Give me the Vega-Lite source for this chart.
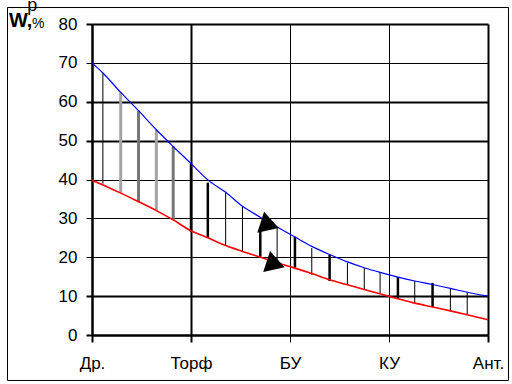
{
  "$schema": "https://vega.github.io/schema/vega-lite/v6.json",
  "width": 396,
  "height": 311,
  "autosize": "none",
  "padding": {"left": 92, "top": 24, "right": 24, "bottom": 49},
  "background": "white",
  "config": {
    "view": {"stroke": null},
    "axis": {
      "domainColor": "black", "domainWidth": 2,
      "grid": true,
      "gridColor": "black", "gridOpacity": 1,
      "tickColor": "black",
      "labelColor": "black", "labelFont": "Liberation Sans", "labelFontSize": 17,
      "labelOverlap": false,
      "title": null
    }
  },
  "datasets": {
    "blue": [
      {"x": 0, "w": 70}, {"x": 0.11, "w": 67.4}, {"x": 0.29, "w": 62.4}, {"x": 0.47, "w": 57.7},
      {"x": 0.65, "w": 52.8}, {"x": 0.82, "w": 48.5}, {"x": 1.0, "w": 44.1}, {"x": 1.17, "w": 39.9},
      {"x": 1.35, "w": 36.7}, {"x": 1.52, "w": 33.1}, {"x": 1.7, "w": 30.3}, {"x": 1.87, "w": 27.8},
      {"x": 2.05, "w": 25.2}, {"x": 2.22, "w": 22.8}, {"x": 2.4, "w": 20.7}, {"x": 2.58, "w": 18.8},
      {"x": 2.75, "w": 17.3}, {"x": 2.91, "w": 16.1}, {"x": 3.09, "w": 14.9}, {"x": 3.26, "w": 13.9},
      {"x": 3.44, "w": 13.0}, {"x": 3.62, "w": 12.0}, {"x": 3.79, "w": 11.0}, {"x": 4, "w": 10.0}
    ],
    "red": [
      {"x": 0, "w": 39.8}, {"x": 0.11, "w": 38.6}, {"x": 0.29, "w": 36.5}, {"x": 0.47, "w": 34.3},
      {"x": 0.65, "w": 32.0}, {"x": 0.82, "w": 29.6}, {"x": 1.0, "w": 26.8}, {"x": 1.17, "w": 25.0},
      {"x": 1.35, "w": 23.0}, {"x": 1.52, "w": 21.5}, {"x": 1.7, "w": 20.0}, {"x": 1.87, "w": 18.6},
      {"x": 2.05, "w": 17.2}, {"x": 2.22, "w": 15.8}, {"x": 2.4, "w": 14.2}, {"x": 2.58, "w": 12.9},
      {"x": 2.75, "w": 11.7}, {"x": 2.91, "w": 10.6}, {"x": 3.09, "w": 9.3}, {"x": 3.26, "w": 8.2},
      {"x": 3.44, "w": 7.2}, {"x": 3.62, "w": 6.2}, {"x": 3.79, "w": 5.2}, {"x": 4, "w": 3.9}
    ],
    "thin": [
      {"x": 0.11, "lo": 38.9, "hi": 67.4},
      {"x": 1.35, "lo": 22.9, "hi": 36.9},
      {"x": 1.52, "lo": 21.6, "hi": 33.2},
      {"x": 1.87, "lo": 18.6, "hi": 27.8},
      {"x": 2.22, "lo": 15.5, "hi": 22.4},
      {"x": 2.58, "lo": 12.9, "hi": 18.6},
      {"x": 2.75, "lo": 11.6, "hi": 17.3},
      {"x": 2.91, "lo": 10.6, "hi": 16.2},
      {"x": 3.26, "lo": 8.2, "hi": 13.9},
      {"x": 3.62, "lo": 6.2, "hi": 12.1},
      {"x": 3.79, "lo": 5.2, "hi": 11.1}
    ],
    "thick": [
      {"x": 1.0, "lo": 26.5, "hi": 44.1},
      {"x": 1.17, "lo": 25.0, "hi": 39.2},
      {"x": 1.7, "lo": 20.1, "hi": 27.8},
      {"x": 2.05, "lo": 17.3, "hi": 25.3},
      {"x": 2.4, "lo": 13.9, "hi": 20.6},
      {"x": 3.09, "lo": 9.3, "hi": 14.9},
      {"x": 3.44, "lo": 7.2, "hi": 13.4}
    ],
    "greyLight": [
      {"x": 0.29, "lo": 36.6, "hi": 62.4},
      {"x": 0.65, "lo": 32.0, "hi": 52.8}
    ],
    "greyDark": [
      {"x": 0.47, "lo": 34.3, "hi": 57.7},
      {"x": 0.82, "lo": 29.6, "hi": 48.5}
    ],
    "arrows": [
      {"x": 1.758, "w": 29.3},
      {"x": 1.818, "w": 19.2}
    ]
  },
  "encoding": {
    "x": {"type": "quantitative",
      "scale": {"domain": [0, 4], "nice": false, "zero": false},
      "axis": {
        "values": [0, 1, 2, 3, 4],
        "labelExpr": "['Др.','Торф','БУ','КУ','Ант.'][datum.value]",
        "labelFlush": false,
        "tickSize": 7,
        "labelPadding": 13,
        "gridWidth": {"condition": {"test": "datum.value == 2 || datum.value == 3", "value": 1}, "value": 2},
        "tickWidth": {"condition": {"test": "datum.value == 2 || datum.value == 3", "value": 1}, "value": 2}
      }},
    "y": {"type": "quantitative",
      "scale": {"domain": [0, 80], "nice": false, "zero": true},
      "axis": {
        "values": [0, 10, 20, 30, 40, 50, 60, 70, 80],
        "tickSize": 6,
        "labelPadding": 9,
        "gridWidth": {"condition": {"test": "datum.value == 20 || datum.value == 30 || datum.value == 40 || datum.value == 70", "value": 1}, "value": 2},
        "tickWidth": {"condition": {"test": "datum.value == 20 || datum.value == 30 || datum.value == 40 || datum.value == 70", "value": 1}, "value": 2}
      }}
  },
  "layer": [
    {
      "data": {"name": "greyLight"},
      "mark": {"type": "rule", "color": "#a4a4a4", "strokeWidth": 3},
      "encoding": {"x": {"field": "x"}, "y": {"field": "lo"}, "y2": {"field": "hi"}}
    },
    {
      "data": {"name": "greyDark"},
      "mark": {"type": "rule", "color": "#767676", "strokeWidth": 3},
      "encoding": {"x": {"field": "x"}, "y": {"field": "lo"}, "y2": {"field": "hi"}}
    },
    {
      "data": {"name": "thick"},
      "mark": {"type": "rule", "color": "black", "strokeWidth": 2.5},
      "encoding": {"x": {"field": "x"}, "y": {"field": "lo"}, "y2": {"field": "hi"}}
    },
    {
      "data": {"name": "thin"},
      "mark": {"type": "rule", "color": "black", "strokeWidth": 1},
      "encoding": {"x": {"field": "x"}, "y": {"field": "lo"}, "y2": {"field": "hi"}}
    },
    {
      "data": {"name": "blue"},
      "mark": {"type": "line", "color": "#0000ff", "strokeWidth": 1.2, "interpolate": "monotone"},
      "encoding": {"x": {"field": "x"}, "y": {"field": "w"}}
    },
    {
      "data": {"name": "red"},
      "mark": {"type": "line", "color": "#ff0000", "strokeWidth": 1.6, "interpolate": "monotone"},
      "encoding": {"x": {"field": "x"}, "y": {"field": "w"}}
    },
    {
      "data": {"name": "arrows"},
      "mark": {"type": "point", "shape": "triangle-up", "filled": true, "color": "black", "opacity": 1, "size": 480, "angle": -12},
      "encoding": {"x": {"field": "x"}, "y": {"field": "w"}}
    },
    {
      "data": {"values": [{"frame": 1}]},
      "mark": {"type": "rect", "fill": null, "stroke": "black", "strokeWidth": 1, "clip": false},
      "encoding": {
        "x": {"datum": -0.8535},
        "x2": {"datum": 4.207},
        "y": {"datum": 84.24},
        "y2": {"datum": -11.7}
      }
    },
    {
      "data": {"values": [{"t": "W,"}]},
      "mark": {"type": "text", "font": "Liberation Sans", "fontWeight": "bold", "fontSize": 20, "align": "left", "baseline": "alphabetic", "color": "black", "clip": false},
      "encoding": {"text": {"field": "t"}, "x": {"datum": -0.838}, "y": {"datum": 79.2}}
    },
    {
      "data": {"values": [{"t": "р"}]},
      "mark": {"type": "text", "font": "Liberation Sans", "fontSize": 18, "align": "left", "baseline": "alphabetic", "color": "black", "clip": false},
      "encoding": {"text": {"field": "t"}, "x": {"datum": -0.655}, "y": {"datum": 83.3}}
    },
    {
      "data": {"values": [{"t": "%"}]},
      "mark": {"type": "text", "font": "Liberation Sans", "fontSize": 14, "align": "left", "baseline": "alphabetic", "color": "black", "clip": false},
      "encoding": {"text": {"field": "t"}, "x": {"datum": -0.605}, "y": {"datum": 79.0}}
    }
  ]
}
